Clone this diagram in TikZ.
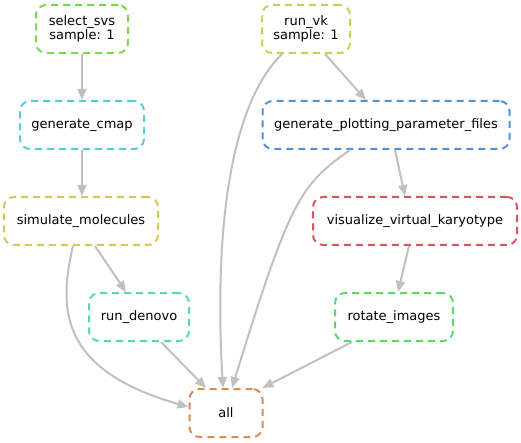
\documentclass[tikz,border=0pt]{standalone}
\usepackage{fontspec}
\setmainfont{DejaVu Sans}
\usetikzlibrary{arrows.meta,positioning}
\definecolor{edgegray}{HTML}{C0C0C0}
\definecolor{svsgreen}{HTML}{7AD84F}
\definecolor{vkgreen}{HTML}{B8D957}
\definecolor{cmapcyan}{HTML}{57CCD9}
\definecolor{plotblue}{HTML}{578FD9}
\definecolor{molyellow}{HTML}{D9C657}
\definecolor{denovoteal}{HTML}{57D9AD}
\definecolor{karyored}{HTML}{D95757}
\definecolor{rotgreen}{HTML}{57D96E}
\definecolor{allorange}{HTML}{D98C57}

\tikzset{
  rule/.style={draw=#1,dashed,dash pattern=on 7pt off 5pt,line width=2pt,
               rounded corners=10pt,minimum height=48pt,align=center,
               inner sep=0pt,text=black},
  edge/.style={draw=edgegray,line width=2pt,-{Triangle[length=11pt,width=9pt]}}
}

\begin{document}
\begin{tikzpicture}[x=1pt,y=-1pt,font=\fontsize{13}{14.5}\selectfont]
  \useasboundingbox (0,0) rectangle (521,443);
  \node[rule=svsgreen,minimum width=92pt] (svs) at (82,29) {select\_svs\\sample: 1};
  \node[rule=vkgreen,minimum width=88pt] (vk) at (306,29) {run\_vk\\sample: 1};
  \node[rule=cmapcyan,minimum width=124pt] (cmap) at (82,125) {generate\_cmap};
  \node[rule=plotblue,minimum width=247pt] (params) at (386,125) {generate\_plotting\_parameter\_files};
  \node[rule=molyellow,minimum width=154pt] (mol) at (81,221) {simulate\_molecules};
  \node[rule=karyored,minimum width=204pt] (karyo) at (415,221) {visualize\_virtual\_karyotype};
  \node[rule=denovoteal,minimum width=100pt] (denovo) at (139,317) {run\_denovo};
  \node[rule=rotgreen,minimum width=118pt] (rot) at (394,317) {rotate\_images};
  \node[rule=allorange,minimum width=73pt] (all) at (226,413) {all};

  \draw[edge] (svs) -- (cmap);
  \draw[edge] (cmap.south) -- ([xshift=1pt]mol.north);
  \draw[edge] ([xshift=14pt]mol.south) -- ([xshift=-13pt]denovo.north);
  \draw[edge] ([xshift=-8pt]mol.south) .. controls (58,310) and (60,370) .. ([yshift=6pt]all.west);
  \draw[edge] ([xshift=22pt]denovo.south) -- ([xshift=-20pt]all.north);
  \draw[edge] ([xshift=-24pt]vk.south) .. controls (225,110) and (215,250) .. ([xshift=-3pt]all.north);
  \draw[edge] ([xshift=19pt]vk.south) -- ([xshift=-20pt]params.north);
  \draw[edge] ([xshift=-36pt]params.south) .. controls (300,185) and (290,200) .. ([xshift=6pt]all.north);
  \draw[edge] ([xshift=9pt]params.south) -- ([xshift=-10pt]karyo.north);
  \draw[edge] ([xshift=-6pt]karyo.south) -- ([xshift=4pt]rot.north);
  \draw[edge] ([xshift=-42pt]rot.south) -- ([xshift=-1pt]all.north east);
\end{tikzpicture}
\end{document}
